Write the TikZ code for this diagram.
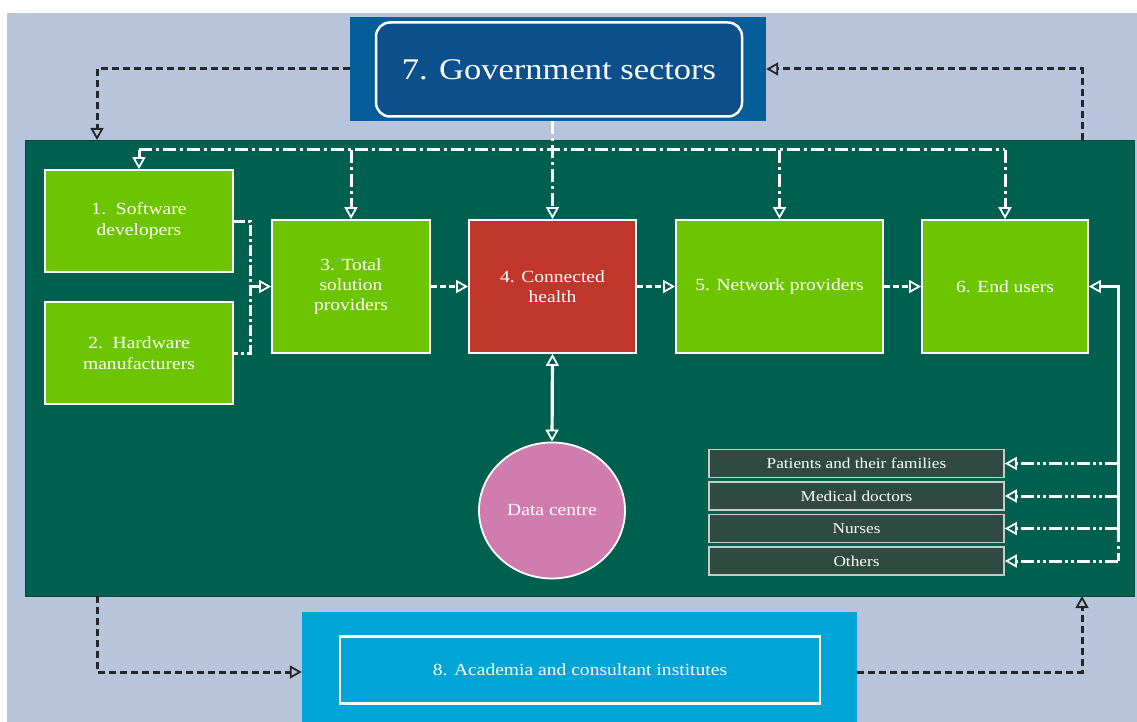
\documentclass[tikz,border=0pt]{standalone}
\usepackage{fontspec}
\setmainfont{Liberation Serif}[FakeStretch=1.15]
\usetikzlibrary{arrows.meta,shapes.geometric}
\definecolor{skyback}{HTML}{B7C4DC}
\definecolor{govblue}{HTML}{055E97}
\definecolor{govinner}{HTML}{0B4F8D}
\definecolor{panelgreen}{HTML}{006050}
\definecolor{leafgreen}{HTML}{6DC400}
\definecolor{healthred}{HTML}{C1362B}
\definecolor{datapink}{HTML}{D07CAE}
\definecolor{rowfill}{HTML}{2F4A41}
\definecolor{rowedge}{HTML}{C5CEC6}
\definecolor{acadblue}{HTML}{00A5D6}
\newcommand\boxfont{\fontsize{17pt}{20.4pt}\selectfont}
\newcommand\rowfont{\fontsize{15pt}{17pt}\selectfont}
\newcommand\govfont{\fontsize{30pt}{36pt}\selectfont}
\tikzset{
  greenbox/.style={draw=white,line width=1.8pt,fill=leafgreen,text=white,align=center,font=\boxfont,inner sep=0pt},
  rowbox/.style={draw=rowedge,line width=1.6pt,fill=rowfill,text=white,font=\rowfont,minimum width=295pt,minimum height=28pt,inner sep=0pt},
  opentip/.style={-{Triangle[open,length=12pt,width=13pt,line width=1.8pt]}},
  busline/.style={white,line width=3pt,dash pattern=on 13pt off 4pt on 3pt off 4pt},
  flowline/.style={white,line width=3pt,dash pattern=on 6pt off 3pt},
  brackline/.style={white,line width=3pt,dash pattern=on 11pt off 3pt on 3pt off 3pt},
  listline/.style={white,line width=3pt,dash pattern=on 13pt off 3pt on 3pt off 3pt on 3pt off 3pt},
  blackline/.style={black!85,line width=3pt,dash pattern=on 7pt off 4pt}
}
\begin{document}
\begin{tikzpicture}
\useasboundingbox (0pt,0pt) rectangle (1137pt,-722pt);
\fill[white] (0pt,0pt) rectangle (1137pt,-722pt);
\fill[skyback] (7pt,-13pt) rectangle (1137pt,-722pt);
\node[fill=panelgreen,draw=panelgreen!80!black,minimum width=1109pt,minimum height=456pt,inner sep=0pt] (panel) at (579.5pt,-368pt) {};
\node[fill=govblue,minimum width=416pt,minimum height=104pt,inner sep=0pt] (gov) at (558pt,-69pt) {};
\node[draw=white,line width=2.5pt,rounded corners=14pt,fill=govinner,text=white,font=\govfont,minimum width=366pt,minimum height=94pt,inner sep=0pt] (govin) at (559pt,-69.5pt) {7. Government sectors};
\node[fill=acadblue,minimum width=555pt,minimum height=120pt,inner sep=0pt] (acad) at (579.5pt,-672pt) {};
\node[draw=white,line width=2.2pt,fill=acadblue,text=white,font=\boxfont,minimum width=480pt,minimum height=67pt,inner sep=0pt] (acadin) at (580pt,-670pt) {8. Academia and consultant institutes};
\node[greenbox,minimum width=188pt,minimum height=102pt] (box1) at (139pt,-221pt) {1.\ \ Software\\developers};
\node[greenbox,minimum width=188pt,minimum height=102pt] (box2) at (139pt,-353pt) {2.\ \ Hardware\\manufacturers};
\node[greenbox,minimum width=158pt,minimum height=133pt] (box3) at (351pt,-286.5pt) {3. Total\\solution\\providers};
\node[greenbox,fill=healthred,minimum width=167pt,minimum height=133pt] (box4) at (552.5pt,-286.5pt) {4. Connected\\health};
\node[greenbox,minimum width=207pt,minimum height=133pt] (box5) at (779.5pt,-286.5pt) {5. Network providers};
\node[greenbox,minimum width=166pt,minimum height=133pt] (box6) at (1005pt,-286.5pt) {6. End users};
\node[ellipse,draw=white,line width=1.8pt,fill=datapink,text=white,font=\boxfont,minimum width=146pt,minimum height=136pt,inner sep=0pt] (dc) at (552pt,-510.5pt) {Data centre};
\node[rowbox] (pat) at (856.5pt,-463.5pt) {Patients and their families};
\node[rowbox] (doc) at (856.5pt,-496pt) {Medical doctors};
\node[rowbox] (nur) at (856.5pt,-528.5pt) {Nurses};
\node[rowbox] (oth) at (856.5pt,-561pt) {Others};
\coordinate (ptl) at (97pt,-140pt);
\coordinate (ptr) at (1082pt,-140pt);
\coordinate (pbl) at (97pt,-596pt);
\coordinate (pbr) at (1082pt,-596pt);
\coordinate (bus) at (553pt,-150pt);
\coordinate (brk) at (250pt,-286.5pt);
\coordinate (eu) at (1118pt,-286.5pt);
\draw[blackline,opentip] (gov.west) -| (ptl);
\draw[blackline,opentip] (ptr) |- (gov.east);
\draw[blackline,opentip] (pbl) |- (acad.west);
\draw[blackline,opentip] (acad.east) -| (pbr);
\draw[busline] (box1.north |- bus) -- (box6.north |- bus);
\draw[busline,opentip] (box4.north |- gov.south) -- (box4.north);
\draw[busline,opentip] (box1.north |- bus) -- (box1.north);
\draw[busline,opentip] (box3.north |- bus) -- (box3.north);
\draw[busline,opentip] (box5.north |- bus) -- (box5.north);
\draw[busline,opentip] (box6.north |- bus) -- (box6.north);
\draw[brackline] (box1.east) -| (brk) |- (box2.east);
\draw[brackline,opentip] (brk) -- (box3.west);
\draw[flowline,opentip] (box3.east) -- (box4.west);
\draw[flowline,opentip] (box4.east) -- (box5.west);
\draw[flowline,opentip] (box5.east) -- (box6.west);
\draw[white,line width=3.2pt,{Triangle[open,length=12pt,width=13pt,line width=1.8pt]}-{Triangle[open,length=12pt,width=13pt,line width=1.8pt]}] (box4.south) -- (dc.north);
\draw[white,line width=3pt,opentip] (eu |- nur.east) -- (eu) -- (box6.east);
\draw[busline] (eu |- nur.east) -- (eu |- oth.east);
\draw[listline,opentip] (eu |- pat.east) -- (pat.east);
\draw[listline,opentip] (eu |- doc.east) -- (doc.east);
\draw[listline,opentip] (eu |- nur.east) -- (nur.east);
\draw[listline,opentip] (eu |- oth.east) -- (oth.east);
\end{tikzpicture}
\end{document}
